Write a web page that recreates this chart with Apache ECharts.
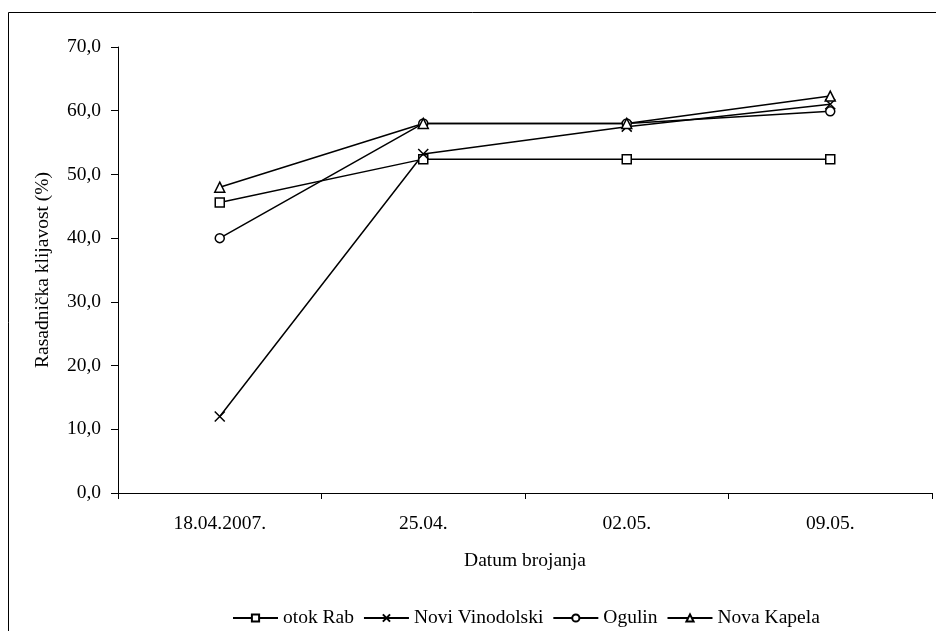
<!DOCTYPE html>
<html><head><meta charset="utf-8">
<script src="https://cdn.jsdelivr.net/npm/echarts@6/dist/echarts.min.js"></script>
<style>html,body{margin:0;padding:0;background:#fff}#c{width:936px;height:631px}</style>
</head><body><div id="c"></div>
<script>
const categories = ['18.04.2007.', '25.04.', '02.05.', '09.05.'];
const otokRab = [45.6, 52.4, 52.4, 52.4];
const noviVinodolski = [12.0, 53.2, 57.5, 61.0];
const ogulin = [40.0, 58.0, 58.0, 59.9];
const novaKapela = [48.0, 58.0, 58.0, 62.3];
const seriesNames = ['otok Rab', 'Novi Vinodolski', 'Ogulin', 'Nova Kapela'];
const yTicks = [0, 10, 20, 30, 40, 50, 60, 70];

const font = 'Liberation Serif, Times New Roman, serif';
const fs = 19.5;
const crossPath = 'path://M0,0L10,10M10,0L0,10';
const symbols = ['rect', crossPath, 'circle', 'triangle'];
const sizes = [9, 10, 9, 10];
const datas = [otokRab, noviVinodolski, ogulin, novaKapela];

const chart = echarts.init(document.getElementById('c'), null, {renderer: 'canvas'});
chart.setOption({
  animation: false,
  backgroundColor: '#fff',
  graphic: [{
    type: 'rect', shape: {x: 8.5, y: 12.5, width: 1000, height: 1000},
    style: {fill: 'none', stroke: '#000', lineWidth: 1}, silent: true
  }],
  grid: {left: 118, right: 4, top: 47, bottom: 138},
  legend: {
    top: 603, left: 227,
    itemWidth: 45, itemHeight: 9, itemGap: 9,
    textStyle: {fontFamily: font, fontSize: fs, color: '#000'},
    data: seriesNames
  },
  xAxis: {
    type: 'category', data: categories, boundaryGap: true,
    axisLine: {lineStyle: {color: '#000', width: 1}},
    axisTick: {show: true, length: 6, lineStyle: {color: '#000'}},
    axisLabel: {fontFamily: font, fontSize: fs, color: '#000', margin: 21},
    name: 'Datum brojanja', nameLocation: 'middle', nameGap: 58,
    nameTextStyle: {fontFamily: font, fontSize: fs, color: '#000'}
  },
  yAxis: {
    type: 'value', min: yTicks[0], max: yTicks[yTicks.length - 1], interval: 10,
    axisLine: {show: true, lineStyle: {color: '#000', width: 1}},
    axisTick: {show: true, length: 7, lineStyle: {color: '#000'}},
    splitLine: {show: false},
    axisLabel: {fontFamily: font, fontSize: fs, color: '#000', margin: 17,
      formatter: v => v.toFixed(1).replace('.', ',')},
    name: 'Rasadnička klijavost (%)', nameLocation: 'middle', nameGap: 65,
    nameTextStyle: {fontFamily: font, fontSize: fs, color: '#000'}
  },
  series: seriesNames.map((n, i) => ({
    name: n, type: 'line', data: datas[i],
    symbol: symbols[i], symbolSize: sizes[i], showSymbol: true,
    lineStyle: {color: '#000', width: 1.5},
    itemStyle: {color: '#fff', borderColor: '#000', borderWidth: 1.5},
    emphasis: {disabled: true}
  }))
});
</script></body></html>
